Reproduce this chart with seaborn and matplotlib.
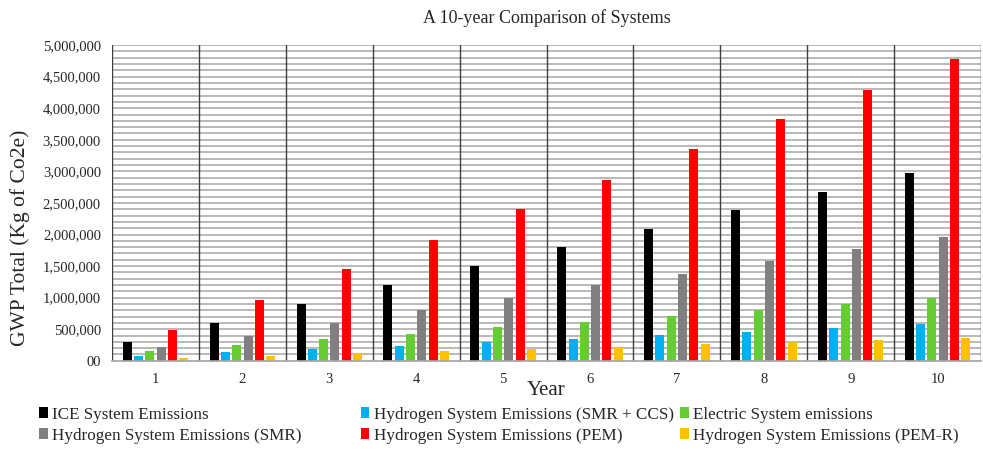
import matplotlib
matplotlib.use("Agg")
import matplotlib.pyplot as plt
import seaborn as sns
import pandas as pd
from matplotlib.patches import Patch

years = [1, 2, 3, 4, 5, 6, 7, 8, 9, 10]
ice = [300000, 600000, 900000, 1200000, 1500000, 1800000, 2090000, 2390000, 2680000, 2980000]
smr_ccs = [75000, 135000, 180000, 235000, 295000, 350000, 406000, 460000, 517000, 580000]
electric = [158000, 245000, 345000, 430000, 530000, 610000, 712000, 807000, 902000, 1000000]
smr = [215000, 400000, 600000, 800000, 1000000, 1200000, 1380000, 1575000, 1770000, 1965000]
pem = [490000, 960000, 1450000, 1920000, 2400000, 2870000, 3350000, 3830000, 4290000, 4780000]
pem_r = [45000, 80000, 120000, 160000, 190000, 226000, 264000, 296000, 328000, 369000]

series_names = [
    "ICE System Emissions",
    "Hydrogen System Emissions (SMR + CCS)",
    "Electric System emissions",
    "Hydrogen System Emissions (SMR)",
    "Hydrogen System Emissions (PEM)",
    "Hydrogen System Emissions (PEM-R)",
]
series_values = [ice, smr_ccs, electric, smr, pem, pem_r]
colors = ["#000000", "#00B0F0", "#66CC33", "#808080", "#FF0000", "#FFC000"]

y_ticks = [0, 500000, 1000000, 1500000, 2000000, 2500000, 3000000, 3500000, 4000000, 4500000, 5000000]
y_tick_labels = ["00", "500,000", "1,000,000", "1,500,000", "2,000,000", "2,500,000",
                 "3,000,000", "3,500,000", "4,000,000", "4,500,000", "5,000,000"]

title = "A 10-year Comparison of Systems"
x_label = "Year"
y_label = "GWP Total (Kg of Co2e)"

rows = []
for name, vals in zip(series_names, series_values):
    for yr, v in zip(years, vals):
        rows.append({"Year": str(yr), "Series": name, "Value": v})
df = pd.DataFrame(rows)

sns.set_theme(style="white")
plt.rcParams["font.family"] = ["Liberation Serif", "DejaVu Serif"]

fig = plt.figure(figsize=(9.83, 4.51), dpi=100)
ax = fig.add_axes([0.114, 0.2, 0.884, 0.70])

# gridlines every 100k
for g in range(100000, 5000001, 100000):
    ax.axhline(g, color="#a6a6a6", lw=1.1, zorder=0)

sns.barplot(data=df, x="Year", y="Value", hue="Series", hue_order=series_names,
            palette=colors, width=0.78, gap=0.2, saturation=1, ax=ax,
            legend=False, zorder=2, errorbar=None, linewidth=0)

for b in [i - 0.5 for i in range(len(years) + 1)]:
    ax.axvline(b, color="#3f3f3f", lw=1.0, zorder=1)

ax.set_xlim(-0.5, len(years) - 0.5)
ax.set_ylim(0, 5000000)
ax.set_yticks(y_ticks)
ax.set_yticklabels(y_tick_labels, fontsize=10.5)
ax.tick_params(axis="x", labelsize=10.5, length=0, pad=9)
ax.tick_params(axis="y", length=0, pad=8)
for s in ["top", "right", "left"]:
    ax.spines[s].set_visible(False)
ax.spines["bottom"].set_color("#a6a6a6")

ax.set_xlabel(x_label, fontsize=15, labelpad=-4)
ax.set_ylabel(y_label, fontsize=15.5)
ax.yaxis.set_label_coords(-0.095, 0.39)
ax.set_title(title, fontsize=13, pad=16)

handles = [Patch(facecolor=c, edgecolor="none") for c in colors]
col_x = [0.040, 0.367, 0.692]
for ci in range(3):
    hs = [handles[ci], handles[ci + 3]]
    ls = [series_names[ci], series_names[ci + 3]]
    fig.legend(hs, ls, loc="upper left", bbox_to_anchor=(col_x[ci], 0.098),
               frameon=False, fontsize=12.3, handlelength=0.5, handleheight=0.6,
               handletextpad=0.25, borderpad=0, borderaxespad=0, labelspacing=0.3)

fig.savefig("out.png", dpi=100)
